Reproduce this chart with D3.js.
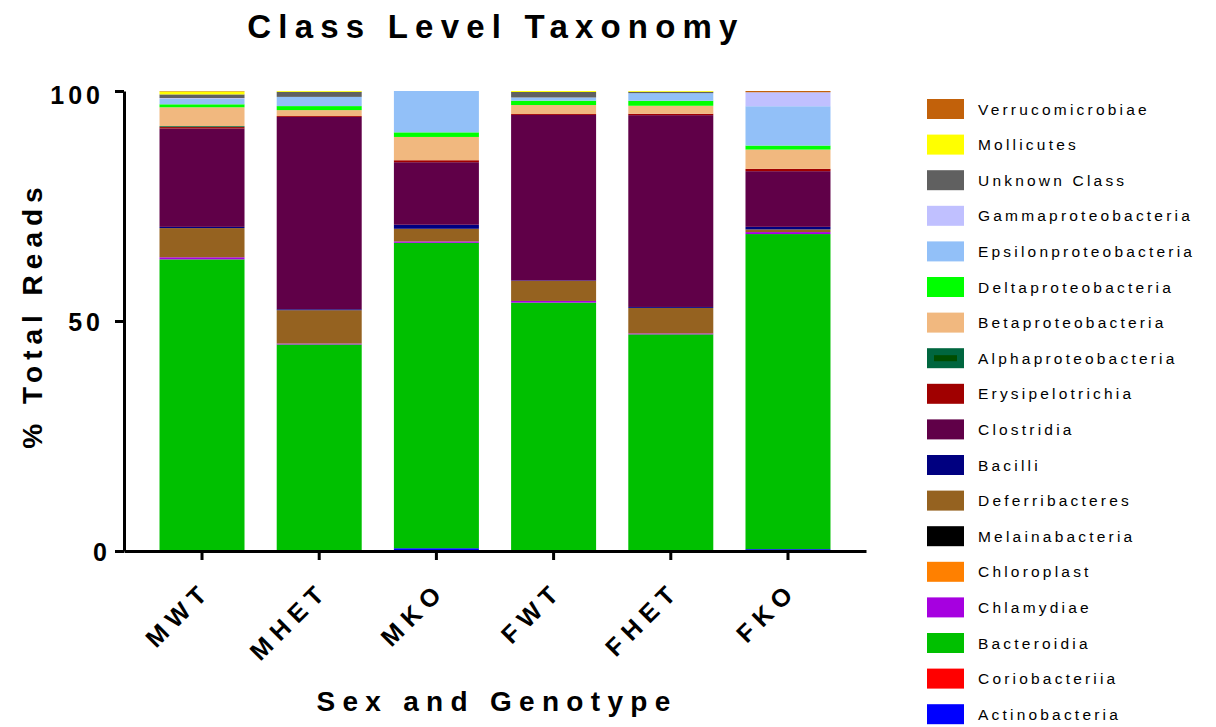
<!DOCTYPE html>
<html>
<head>
<meta charset="utf-8">
<script src="https://cdn.jsdelivr.net/npm/d3@7/dist/d3.min.js"></script>
<style>
  html, body { margin: 0; padding: 0; background: #ffffff; }
  svg { display: block; font-family: "Liberation Sans", Arial, sans-serif; }
</style>
</head>
<body>
<svg id="chart" width="1216" height="727"></svg>
<script>
// Sample groups (sex and genotype)
const groups = ["MWT", "MHET", "MKO", "FWT", "FHET", "FKO"];

// Taxonomic classes, stacked from the bottom of each bar upwards
const classes = [
  "Actinobacteria", "Coriobacteriia", "Bacteroidia", "Chlamydiae", "Chloroplast",
  "Melainabacteria", "Deferribacteres", "Bacilli", "Clostridia", "Erysipelotrichia",
  "Alphaproteobacteria", "Betaproteobacteria", "Deltaproteobacteria",
  "Epsilonproteobacteria", "Gammaproteobacteria", "Unknown Class", "Mollicutes",
  "Verrucomicrobiae"
];

const classColors = [
  "#0000ff", "#ff0000", "#00c000", "#a600e0", "#ff8000",
  "#000000", "#956220", "#000080", "#600048", "#a00000",
  "#00663f", "#f1b87f", "#00ff00",
  "#92c0f8", "#c0c0ff", "#606060", "#ffff00",
  "#c2610a"
];

// % total reads per class, in the class order above
const mwt  = [0,   0, 63.4, 0.45, 0, 0, 6.35, 0.26, 21.4, 0.3,  0.2, 4.1,  0.65, 1.2,  0.15, 0.8, 0.65, 0.09];
const mhet = [0,   0, 44.9, 0.2,  0, 0, 7.25, 0.2,  41.8, 0.2,  0,   1.3,  0.87, 2.0,  0,    1.1, 0.18, 0];
const mko  = [0.6, 0, 66.4, 0.3,  0, 0, 2.75, 0.87, 13.6, 0.43, 0,   5.06, 1.0,  8.99, 0,    0,   0,    0];
const fwt  = [0,   0, 54.0, 0.36, 0, 0, 4.34, 0.1,  36.0, 0.2,  0,   1.95, 0.94, 0.7,  0,    1.2, 0.21, 0];
const fhet = [0,   0, 47.1, 0.2,  0, 0, 5.55, 0.2,  41.7, 0.3,  0,   1.74, 1.08, 1.66, 0,    0.3, 0.17, 0];
const fko  = [0.4, 0, 68.5, 0.43, 0, 0, 0.58, 0.56, 12.1, 0.5,  0,   4.2,  0.87, 8.55, 3.04, 0,   0,    0.27];

const yTicks = [0, 50, 100];

// Build rows for d3.stack
const groupValues = [mwt, mhet, mko, fwt, fhet, fko];
const rows = groups.map((g, gi) => {
  const row = { group: g };
  classes.forEach((c, ci) => { row[c] = groupValues[gi][ci]; });
  return row;
});

const svg = d3.select("#chart");
const boldFont = "'Liberation Sans', Arial, sans-serif";

const x = d3.scaleBand()
  .domain(groups)
  .range([124, 866])
  .paddingInner(0.2747)
  .paddingOuter(0.303);

const y = d3.scaleLinear().domain([0, 100]).range([551, 91]);

const color = d3.scaleOrdinal().domain(classes).range(classColors);

const series = d3.stack().keys(classes)(rows);

// Stacked bars
svg.append("g")
  .selectAll("g")
  .data(series)
  .join("g")
  .attr("fill", d => color(d.key))
  .selectAll("rect")
  .data(d => d)
  .join("rect")
  .attr("x", d => x(d.data.group))
  .attr("width", x.bandwidth())
  .attr("y", d => y(d[1]))
  .attr("height", d => Math.max(0, y(d[0]) - y(d[1])));

// Y axis
const yAxis = svg.append("g")
  .attr("transform", "translate(124,0)")
  .call(d3.axisLeft(y).tickValues(yTicks).tickSize(9).tickSizeOuter(0).tickPadding(11));
yAxis.select(".domain").attr("stroke", "#000").attr("stroke-width", 3);
yAxis.selectAll(".tick line").attr("stroke", "#000").attr("stroke-width", 3);
yAxis.selectAll(".tick text")
  .attr("fill", "#000")
  .style("font-family", boldFont)
  .style("font-size", "25px")
  .style("font-weight", "bold")
  .style("letter-spacing", "4px")
  .attr("dx", d => d === 0 ? 7 : 0)
  .attr("dy", d => d === 100 ? "0.5em" : "0.36em");

// X axis
const xAxis = svg.append("g")
  .attr("transform", "translate(0,551)")
  .call(d3.axisBottom(x).tickSize(9).tickSizeOuter(0));
xAxis.select(".domain").attr("stroke", "#000").attr("stroke-width", 3);
xAxis.selectAll(".tick line").attr("stroke", "#000").attr("stroke-width", 3);
xAxis.selectAll(".tick text")
  .attr("fill", "#000")
  .style("font-family", boldFont)
  .style("font-size", "25px")
  .style("font-weight", "bold")
  .style("letter-spacing", "7px")
  .attr("text-anchor", "end")
  .attr("dy", null)
  .attr("y", null)
  .attr("transform", "translate(11,41) rotate(-45)");

// Titles
svg.append("text")
  .attr("x", 496).attr("y", 38)
  .attr("text-anchor", "middle")
  .style("font-size", "33px").style("font-weight", "bold")
  .style("letter-spacing", "7.2px")
  .text("Class Level Taxonomy");

svg.append("text")
  .attr("transform", "translate(42,315) rotate(-90)")
  .attr("text-anchor", "middle")
  .style("font-size", "28px").style("font-weight", "bold")
  .style("letter-spacing", "6px")
  .text("% Total Reads");

svg.append("text")
  .attr("x", 497).attr("y", 711)
  .attr("text-anchor", "middle")
  .style("font-size", "28px").style("font-weight", "bold")
  .style("letter-spacing", "7.3px")
  .text("Sex and Genotype");

// Legend, top entry is the top of the stack
const legendItems = classes.slice().reverse();
const legend = svg.append("g").attr("transform", "translate(927,99)");
const item = legend.selectAll("g")
  .data(legendItems)
  .join("g")
  .attr("transform", (d, i) => `translate(0,${i * 35.6})`);

item.append("rect")
  .attr("width", 37).attr("height", 20)
  .attr("fill", d => color(d));

item.filter(d => d === "Alphaproteobacteria")
  .append("rect")
  .attr("x", 7).attr("y", 7).attr("width", 23).attr("height", 6)
  .attr("fill", "#004d00");

item.append("text")
  .attr("x", 51).attr("y", 15.5)
  .style("font-size", "15.5px")
  .style("letter-spacing", "3.2px")
  .attr("fill", "#000")
  .text(d => d);
</script>
</body>
</html>
